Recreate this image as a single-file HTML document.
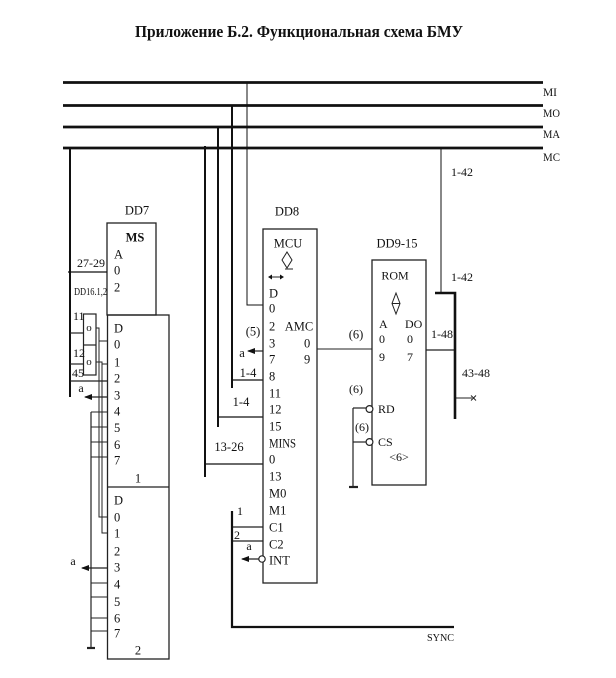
<!DOCTYPE html>
<html>
<head>
<meta charset="utf-8">
<style>
html,body{margin:0;padding:0;background:#fff;}
svg{display:block;}
text{font-family:"Liberation Serif","DejaVu Serif",serif;fill:#111;}
</style>
</head>
<body>
<svg width="616" height="678" viewBox="0 0 616 678" xmlns="http://www.w3.org/2000/svg">
<defs>
<marker id="ah" markerWidth="8" markerHeight="6" refX="7" refY="3" orient="auto" markerUnits="userSpaceOnUse">
<path d="M0,0 L8,3 L0,6 z" fill="#111"/>
</marker>
</defs>

<!-- Title -->
<text x="299" y="37" font-size="17" font-weight="bold" text-anchor="middle" textLength="328" lengthAdjust="spacingAndGlyphs">Приложение Б.2.  Функциональная схема БМУ</text>

<!-- Buses -->
<g stroke="#111" stroke-width="2.7" fill="none">
<line x1="63" y1="82.5" x2="543" y2="82.5"/>
<line x1="63" y1="105.5" x2="543" y2="105.5"/>
<line x1="63" y1="127" x2="543" y2="127"/>
<line x1="63" y1="148" x2="543" y2="148"/>
</g>
<g font-size="12">
<text x="543" y="96" textLength="14" lengthAdjust="spacingAndGlyphs">MI</text>
<text x="543" y="117" textLength="17" lengthAdjust="spacingAndGlyphs">MO</text>
<text x="543" y="138" textLength="17" lengthAdjust="spacingAndGlyphs">MA</text>
<text x="543" y="161" textLength="17" lengthAdjust="spacingAndGlyphs">MC</text>
</g>

<!-- Bus drops -->
<g stroke="#111" fill="none">
<polyline points="247,82 247,305 263,305" stroke-width="1"/>
<line x1="232" y1="105" x2="232" y2="388" stroke-width="2"/>
<line x1="232" y1="380" x2="263" y2="380" stroke-width="1.2"/>
<line x1="218" y1="127" x2="218" y2="427" stroke-width="2"/>
<line x1="218" y1="417" x2="263" y2="417" stroke-width="1.2"/>
<line x1="205" y1="146" x2="205" y2="477" stroke-width="2"/>
<line x1="205" y1="464" x2="263" y2="464" stroke-width="1.2"/>
<line x1="70" y1="147" x2="70" y2="397" stroke-width="2"/>
<line x1="441" y1="148" x2="441" y2="292" stroke-width="1"/>
</g>
<g font-size="12.5">
<text x="248" y="377" text-anchor="middle">1-4</text>
<text x="241" y="406" text-anchor="middle">1-4</text>
<text x="229" y="451" text-anchor="middle">13-26</text>
</g>

<!-- DD7 -->
<text x="137" y="214.5" font-size="12.5" text-anchor="middle">DD7</text>
<g stroke="#222" stroke-width="1.3" fill="none">
<rect x="107" y="223" width="49" height="92"/>
<rect x="107.5" y="315" width="61.5" height="344"/>
<line x1="107.5" y1="487" x2="169" y2="487"/>
</g>
<text x="135" y="241.5" font-size="12.5" font-weight="bold" text-anchor="middle">MS</text>
<g font-size="12.5">
<text x="114" y="258.5">A</text>
<text x="114" y="274.5">0</text>
<text x="114" y="291.5">2</text>
</g>
<line x1="68" y1="272" x2="107" y2="272" stroke="#111" stroke-width="1.2"/>
<text x="91" y="267" font-size="12" text-anchor="middle">27-29</text>
<text x="74" y="295" font-size="11" textLength="33" lengthAdjust="spacingAndGlyphs">DD16.1,2</text>

<!-- mux pins -->
<g font-size="12.5">
<text x="114" y="332.5">D</text>
<text x="114" y="348.5">0</text>
<text x="114" y="366.5">1</text>
<text x="114" y="382.5">2</text>
<text x="114" y="399.5">3</text>
<text x="114" y="415.5">4</text>
<text x="114" y="432">5</text>
<text x="114" y="449">6</text>
<text x="114" y="464.5">7</text>
<text x="138" y="482.5" text-anchor="middle">1</text>
<text x="114" y="504.5">D</text>
<text x="114" y="521.5">0</text>
<text x="114" y="537.5">1</text>
<text x="114" y="555.5">2</text>
<text x="114" y="571.5">3</text>
<text x="114" y="588.5">4</text>
<text x="114" y="606">5</text>
<text x="114" y="622.5">6</text>
<text x="114" y="637.5">7</text>
<text x="138" y="654.5" text-anchor="middle">2</text>
</g>

<!-- gates -->
<g stroke="#222" stroke-width="1.2" fill="none">
<rect x="83.5" y="314" width="12.5" height="61"/>
<line x1="83.5" y1="345" x2="96" y2="345"/>
<line x1="70" y1="333" x2="83.5" y2="333"/>
<line x1="70" y1="364" x2="83.5" y2="364"/>
<line x1="70" y1="381" x2="107" y2="381"/>
<polyline points="96,328 99,328 99,517 107,517" stroke-width="1"/>
<polyline points="96,362 102,362 102,533 107,533" stroke-width="1"/>
<line x1="99" y1="341" x2="107" y2="341" stroke-width="1"/>
<line x1="102" y1="364" x2="107" y2="364" stroke-width="1"/>
<line x1="91" y1="412" x2="91" y2="648" stroke-width="1.2"/>
<line x1="87" y1="648" x2="95" y2="648" stroke-width="2.2"/>
<line x1="91" y1="412" x2="107" y2="412" stroke-width="1"/>
<line x1="91" y1="427" x2="107" y2="427" stroke-width="1"/>
<line x1="91" y1="442" x2="107" y2="442" stroke-width="1"/>
<line x1="91" y1="457" x2="107" y2="457" stroke-width="1"/>
<line x1="91" y1="583" x2="107" y2="583" stroke-width="1"/>
<line x1="91" y1="597" x2="107" y2="597" stroke-width="1"/>
<line x1="91" y1="618" x2="107" y2="618" stroke-width="1"/>
<line x1="91" y1="631" x2="107" y2="631" stroke-width="1"/>
<line x1="107" y1="397" x2="85" y2="397" stroke-width="1.2" marker-end="url(#ah)"/>
<line x1="107" y1="568" x2="82" y2="568" stroke-width="1.2" marker-end="url(#ah)"/>
</g>
<g font-size="11">
<text x="89" y="331" text-anchor="middle">o</text>
<text x="89" y="365" text-anchor="middle">o</text>
</g>
<g font-size="12">
<text x="73" y="320">11</text>
<text x="73" y="357">12</text>
<text x="72" y="377">45</text>
<text x="81" y="392" text-anchor="middle">a</text>
<text x="73" y="565" text-anchor="middle">a</text>
</g>

<!-- DD8 -->
<text x="287" y="215.5" font-size="12.5" text-anchor="middle">DD8</text>
<rect x="263" y="229" width="54" height="354" stroke="#222" stroke-width="1.3" fill="none"/>
<text x="288" y="247.5" font-size="12.5" text-anchor="middle">MCU</text>
<g stroke="#222" stroke-width="1" fill="none">
<polygon points="287,252 292,260 287,268 282,260"/>
<line x1="285" y1="269" x2="293" y2="269"/>
<line x1="271" y1="277" x2="281" y2="277"/>
</g>
<path d="M268,277 L272,274.5 L272,279.5 z M284,277 L280,274.5 L280,279.5 z" fill="#111"/>
<g font-size="12.5">
<text x="269" y="297.5">D</text>
<text x="269" y="312.5">0</text>
<text x="269" y="330.5">2</text>
<text x="269" y="347.5">3</text>
<text x="269" y="363.5">7</text>
<text x="269" y="380.5">8</text>
<text x="269" y="397.5">11</text>
<text x="269" y="413.5">12</text>
<text x="269" y="430.5">15</text>
<text x="269" y="447.5" textLength="27" lengthAdjust="spacingAndGlyphs">MINS</text>
<text x="269" y="463.5">0</text>
<text x="269" y="480.5">13</text>
<text x="269" y="497.5">M0</text>
<text x="269" y="514.5">M1</text>
<text x="269" y="531.5">C1</text>
<text x="269" y="548.5">C2</text>
<text x="269" y="564.5">INT</text>
<text x="299" y="330.5" text-anchor="middle">AMC</text>
<text x="304" y="347.5">0</text>
<text x="304" y="363.5">9</text>
<text x="253" y="335.5" text-anchor="middle">(5)</text>
<text x="242" y="357" text-anchor="middle">a</text>
<text x="237" y="515" font-size="12">1</text>
<text x="234" y="539" font-size="12">2</text>
<text x="249" y="550" font-size="12" text-anchor="middle">a</text>
</g>
<g stroke="#222" stroke-width="1.2" fill="none">
<line x1="263" y1="351" x2="248" y2="351" marker-end="url(#ah)"/>
<line x1="232" y1="527" x2="263" y2="527"/>
<line x1="232" y1="541" x2="263" y2="541"/>
<circle cx="262" cy="559" r="3.2" fill="#fff"/>
<line x1="258.8" y1="559" x2="242" y2="559" marker-end="url(#ah)"/>
<line x1="317" y1="349" x2="372" y2="349" stroke-width="1"/>
</g>
<g stroke="#111" stroke-width="2.2" fill="none">
<polyline points="232,511 232,627 454,627"/>
</g>
<text x="427" y="641" font-size="11" textLength="27" lengthAdjust="spacingAndGlyphs">SYNC</text>
<text x="356" y="338.5" font-size="12.5" text-anchor="middle">(6)</text>

<!-- ROM -->
<text x="397" y="247.5" font-size="12.5" text-anchor="middle">DD9-15</text>
<rect x="372" y="260" width="54" height="225" stroke="#222" stroke-width="1.3" fill="none"/>
<text x="395" y="279.5" font-size="12" text-anchor="middle">ROM</text>
<g stroke="#222" stroke-width="1" fill="none">
<polygon points="396,293 400,303.5 396,314 392,303.5"/>
<line x1="392" y1="303.5" x2="400" y2="303.5"/>
</g>
<g font-size="12">
<text x="379" y="328">A</text>
<text x="405" y="328">DO</text>
<text x="379" y="343">0</text>
<text x="407" y="343">0</text>
<text x="379" y="361">9</text>
<text x="407" y="361">7</text>
<text x="378" y="413">RD</text>
<text x="378" y="446">CS</text>
<text x="399" y="461" text-anchor="middle">&lt;6&gt;</text>
<text x="356" y="393" text-anchor="middle">(6)</text>
<text x="362" y="431" text-anchor="middle">(6)</text>
</g>
<g stroke="#222" stroke-width="1.2" fill="none">
<line x1="353" y1="408" x2="353" y2="487"/>
<line x1="349" y1="487" x2="358" y2="487" stroke-width="2.2"/>
<line x1="353" y1="408" x2="366" y2="408"/>
<line x1="353" y1="442" x2="366" y2="442"/>
<circle cx="369.5" cy="409" r="3.4" fill="#fff"/>
<circle cx="369.5" cy="442" r="3.4" fill="#fff"/>
<line x1="426" y1="350" x2="455" y2="350"/>
<line x1="455" y1="398" x2="472" y2="398" stroke-width="1"/>
<line x1="471" y1="395.5" x2="476" y2="400.5" stroke-width="1"/>
<line x1="471" y1="400.5" x2="476" y2="395.5" stroke-width="1"/>
</g>
<g stroke="#111" stroke-width="2.6" fill="none">
<polyline points="435,293 455,293 455,419"/>
</g>
<g font-size="12">
<text x="462" y="176" text-anchor="middle">1-42</text>
<text x="462" y="281" text-anchor="middle">1-42</text>
<text x="442" y="338" text-anchor="middle">1-48</text>
<text x="476" y="377" text-anchor="middle">43-48</text>
</g>
</svg>
</body>
</html>
